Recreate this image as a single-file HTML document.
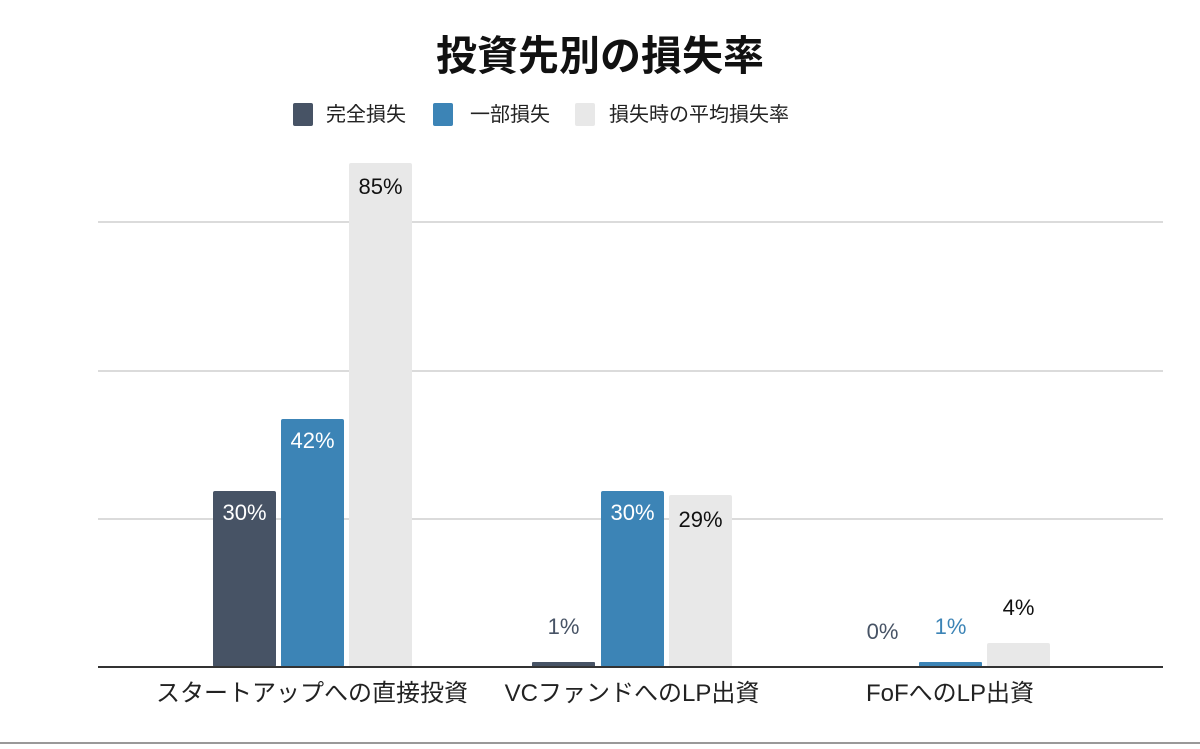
<!DOCTYPE html>
<html><head><meta charset="utf-8"><style>
body{margin:0;background:#fff;}
svg text{font-family:"Liberation Sans","Noto Sans CJK JP",sans-serif;}
</style></head><body>
<svg width="1200" height="744" viewBox="0 0 1200 744" xmlns="http://www.w3.org/2000/svg">
<rect width="1200" height="744" fill="#fff"/>
<text x="600" y="70" text-anchor="middle" font-size="41" font-weight="bold" fill="#111">投資先別の損失率</text>
<rect x="293" y="103" width="20" height="23" rx="2" fill="#475365"/>
<text x="326" y="121" font-size="20" fill="#222">完全損失</text>
<rect x="433" y="103" width="20" height="23" rx="2" fill="#3c84b6"/>
<text x="470" y="121" font-size="20" fill="#222">一部損失</text>
<rect x="575" y="103" width="20" height="23" rx="2" fill="#e8e8e8"/>
<text x="609" y="121" font-size="20" fill="#222">損失時の平均損失率</text>
<g stroke="#cfcfcf" stroke-width="1.5">
<line x1="98" y1="222" x2="1163" y2="222"/>
<line x1="98" y1="371" x2="1163" y2="371"/>
<line x1="98" y1="519" x2="1163" y2="519"/>
</g>
<rect x="213" y="491" width="63" height="176" rx="2" fill="#475365"/>
<rect x="281" y="419" width="63" height="248" rx="2" fill="#3c84b6"/>
<rect x="349" y="163" width="63" height="504" rx="2" fill="#e8e8e8"/>
<rect x="532" y="662" width="63" height="5" rx="1" fill="#475365"/>
<rect x="601" y="491" width="63" height="176" rx="2" fill="#3c84b6"/>
<rect x="669" y="495" width="63" height="172" rx="2" fill="#e8e8e8"/>
<rect x="919" y="662" width="63" height="5" rx="1" fill="#3c84b6"/>
<rect x="987" y="643" width="63" height="24" rx="2" fill="#e8e8e8"/>
<line x1="98" y1="667" x2="1163" y2="667" stroke="#333" stroke-width="2"/>
<g font-size="22" text-anchor="middle">
<text x="244.5" y="520" fill="#fff">30%</text>
<text x="312.5" y="448" fill="#fff">42%</text>
<text x="380.5" y="194" fill="#111">85%</text>
<text x="563.5" y="634" fill="#475365">1%</text>
<text x="632.5" y="520" fill="#fff">30%</text>
<text x="700.5" y="527" fill="#111">29%</text>
<text x="882.5" y="639" fill="#475365">0%</text>
<text x="950.5" y="634" fill="#3c84b6">1%</text>
<text x="1018.5" y="615" fill="#111">4%</text>
</g>
<g font-size="24" text-anchor="middle" fill="#222">
<text x="312" y="701">スタートアップへの直接投資</text>
<text x="632" y="701">VCファンドへのLP出資</text>
<text x="950" y="701">FoFへのLP出資</text>
</g>
<line x1="0" y1="743" x2="1200" y2="743" stroke="#999" stroke-width="2"/>
</svg>
</body></html>
